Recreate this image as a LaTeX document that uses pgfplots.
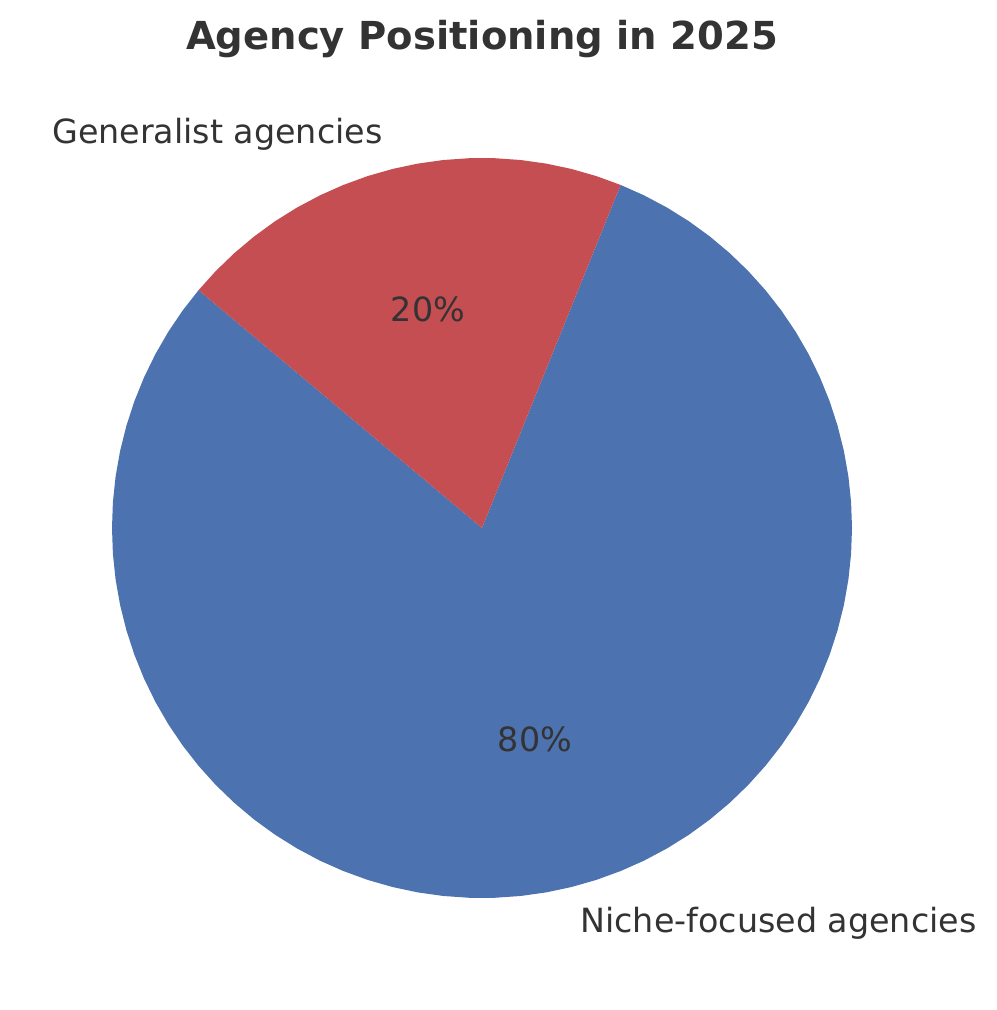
\documentclass[border=0pt]{standalone}
\usepackage{pgfplots}
\pgfplotsset{compat=1.18}
\usepgfplotslibrary{polar}
\usetikzlibrary{calc}
\usepackage{fontspec}
\setmainfont{DejaVu Sans}

\definecolor{niche}{HTML}{4C72B0}
\definecolor{general}{HTML}{C44E52}
\definecolor{txt}{HTML}{333333}

% shares: Niche-focused 80, Generalist 20; start angle 140, counter-clockwise
% wedge outlines as (angle, radius) in a polar axis

\begin{document}
\begin{tikzpicture}[x=0.48pt, y=0.48pt]
\begin{polaraxis}[
    name=pie,
    hide axis,
    scale only axis,
    width=355.2pt, height=355.2pt,
    ymin=0, ymax=1,
    clip=false,
  ]
  % Niche-focused agencies: 80% -> 140 to 428 degrees
  \addplot[draw=none, fill=niche] coordinates {
    (140,0) (140,1) (144,1) (148,1) (152,1) (156,1) (160,1) (164,1) (168,1)
    (172,1) (176,1) (180,1) (184,1) (188,1) (192,1) (196,1) (200,1) (204,1)
    (208,1) (212,1) (216,1) (220,1) (224,1) (228,1) (232,1) (236,1) (240,1)
    (244,1) (248,1) (252,1) (256,1) (260,1) (264,1) (268,1) (272,1) (276,1)
    (280,1) (284,1) (288,1) (292,1) (296,1) (300,1) (304,1) (308,1) (312,1)
    (316,1) (320,1) (324,1) (328,1) (332,1) (336,1) (340,1) (344,1) (348,1)
    (352,1) (356,1) (360,1) (364,1) (368,1) (372,1) (376,1) (380,1) (384,1)
    (388,1) (392,1) (396,1) (400,1) (404,1) (408,1) (412,1) (416,1) (420,1)
    (424,1) (428,1) (428,0)
  };
  % Generalist agencies: 20% -> 68 to 140 degrees
  \addplot[draw=none, fill=general] coordinates {
    (68,0) (68,1) (72,1) (76,1) (80,1) (84,1) (88,1) (92,1) (96,1) (100,1)
    (104,1) (108,1) (112,1) (116,1) (120,1) (124,1) (128,1) (132,1) (136,1)
    (140,1) (140,0)
  };
  \coordinate (C) at (axis cs:0,0);
\end{polaraxis}

\begin{scope}[text=txt]
  \node[anchor=base, font=\fontsize{18.5}{22}\selectfont\bfseries]
    at ($(C)+(0,478)$) {Agency Positioning in 2025};
  \node[anchor=base east, font=\fontsize{16}{19}\selectfont, inner sep=0pt]
    at ($(C)+(-99,384)$) {Generalist agencies};
  \node[anchor=base west, font=\fontsize{16}{19}\selectfont, inner sep=0pt]
    at ($(C)+(98,-404)$) {Niche-focused agencies};
  \node[anchor=base, font=\fontsize{16}{19}\selectfont, inner sep=0pt]
    at ($(C)+(-54,206)$) {20\%};
  \node[anchor=base, font=\fontsize{16}{19}\selectfont, inner sep=0pt]
    at ($(C)+(53,-224)$) {80\%};
\end{scope}

\pgfresetboundingbox
\path[use as bounding box] ($(C)+(-482,-482)$) rectangle ($(C)+(514,528)$);
\end{tikzpicture}
\end{document}
